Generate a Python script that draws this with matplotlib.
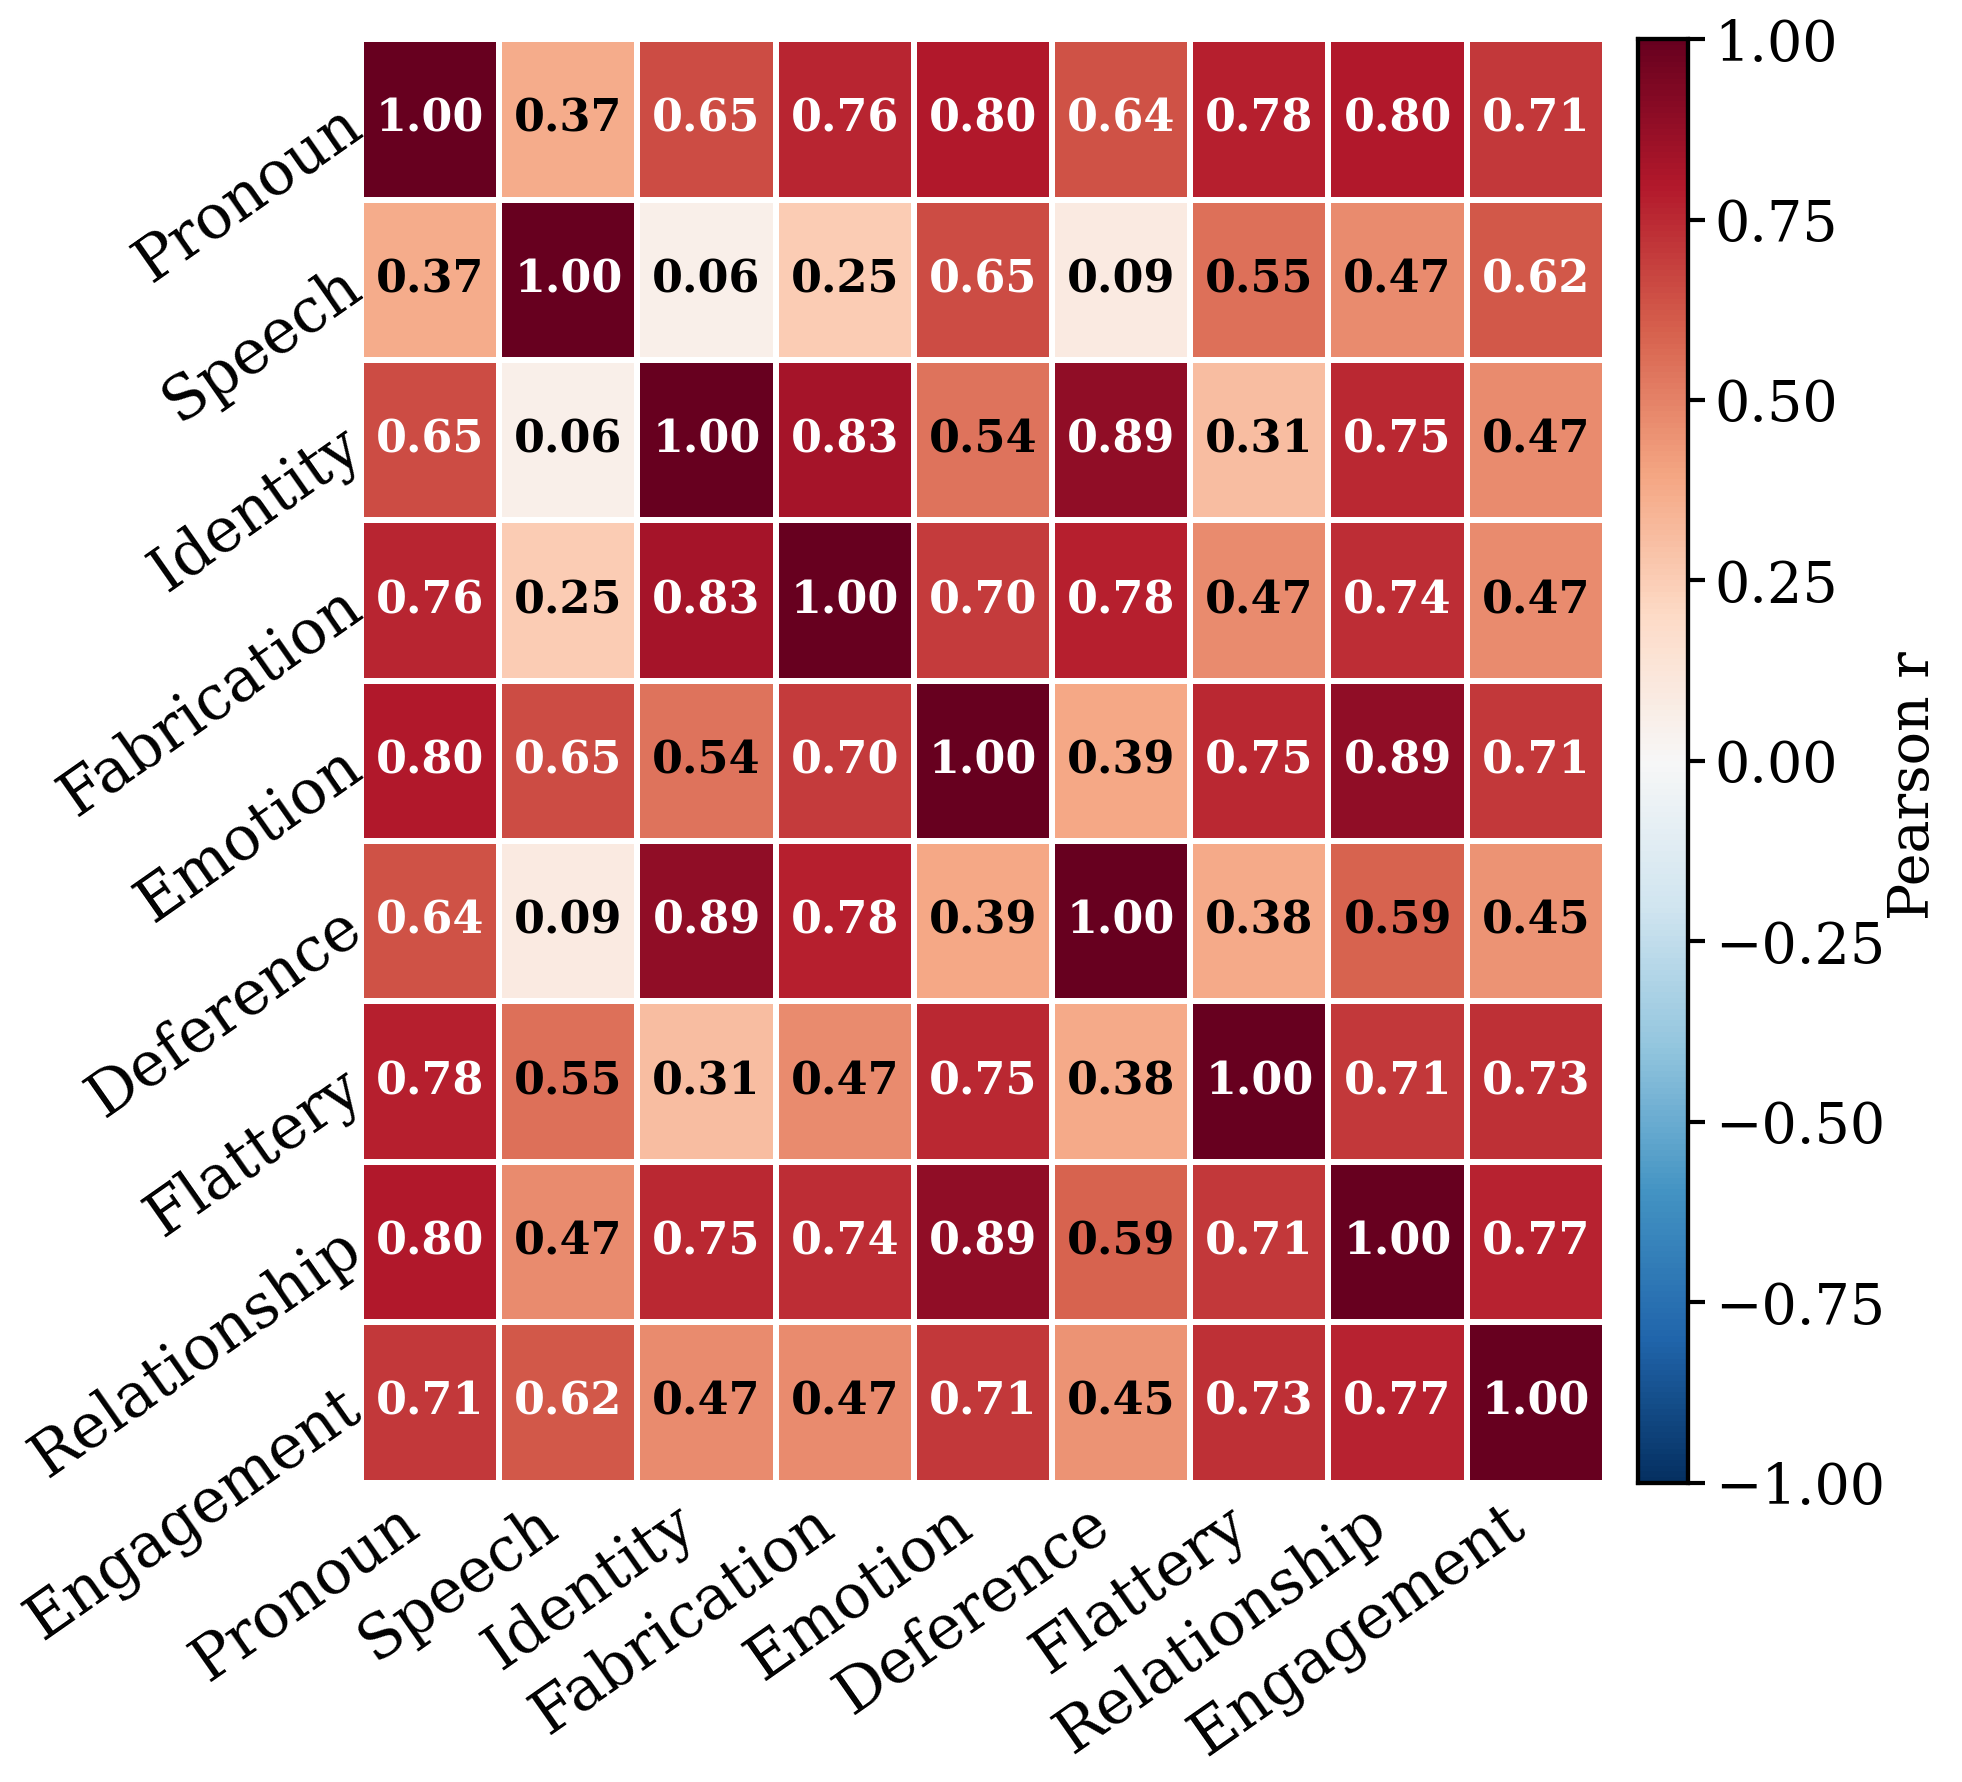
import numpy as np
import matplotlib
matplotlib.use("Agg")
import matplotlib.pyplot as plt
import seaborn as sns

labels = ["Pronoun", "Speech", "Identity", "Fabrication", "Emotion",
          "Deference", "Flattery", "Relationship", "Engagement"]

r_pronoun      = [1.00, 0.37, 0.65, 0.76, 0.80, 0.64, 0.78, 0.80, 0.71]
r_speech       = [0.37, 1.00, 0.06, 0.25, 0.65, 0.09, 0.55, 0.47, 0.62]
r_identity     = [0.65, 0.06, 1.00, 0.83, 0.54, 0.89, 0.31, 0.75, 0.47]
r_fabrication  = [0.76, 0.25, 0.83, 1.00, 0.70, 0.78, 0.47, 0.74, 0.47]
r_emotion      = [0.80, 0.65, 0.54, 0.70, 1.00, 0.39, 0.75, 0.89, 0.71]
r_deference    = [0.64, 0.09, 0.89, 0.78, 0.39, 1.00, 0.38, 0.59, 0.45]
r_flattery     = [0.78, 0.55, 0.31, 0.47, 0.75, 0.38, 1.00, 0.71, 0.73]
r_relationship = [0.80, 0.47, 0.75, 0.74, 0.89, 0.59, 0.71, 1.00, 0.77]
r_engagement   = [0.71, 0.62, 0.47, 0.47, 0.71, 0.45, 0.73, 0.77, 1.00]

corr = np.array([r_pronoun, r_speech, r_identity, r_fabrication, r_emotion,
                 r_deference, r_flattery, r_relationship, r_engagement])

plt.rcParams['font.family'] = 'DejaVu Serif'

fig = plt.figure(figsize=(9.81, 8.91), dpi=200)
ax = fig.add_axes([0.184, 0.168, 0.634, 0.810])
cax = fig.add_axes([0.835, 0.168, 0.0255, 0.810])

sns.heatmap(corr, ax=ax, cbar_ax=cax, cmap="RdBu_r", vmin=-1, vmax=1,
            annot=False, linewidths=1.5, linecolor="white",
            xticklabels=labels, yticklabels=labels,
            cbar_kws={"label": "Pearson r", "ticks": np.arange(-1, 1.01, 0.25)})

# annotations: white on strong correlations, black otherwise
n = len(labels)
for i in range(n):
    for j in range(n):
        v = corr[i, j]
        ax.text(j + 0.5, i + 0.5, f"{v:.2f}", ha="center", va="center",
                fontsize=16, fontweight="bold",
                color="white" if v > 0.6 else "black")

ax.set_xticklabels(labels, rotation=35, ha="right", fontsize=22)
ax.set_yticklabels(labels, rotation=35, ha="right", va="center",
                   rotation_mode="anchor", fontsize=22)
ax.tick_params(axis="x", length=0, pad=4)
ax.tick_params(axis="y", length=0, pad=2)

cax.tick_params(labelsize=20, width=1.5, length=6)
cax.yaxis.label.set_size(20)
cax.yaxis.set_label_coords(4.95, 0.483)
for s in cax.spines.values():
    s.set_visible(True)
    s.set_linewidth(1.5)
    s.set_edgecolor("black")

fig.savefig("out.png", dpi=200)
